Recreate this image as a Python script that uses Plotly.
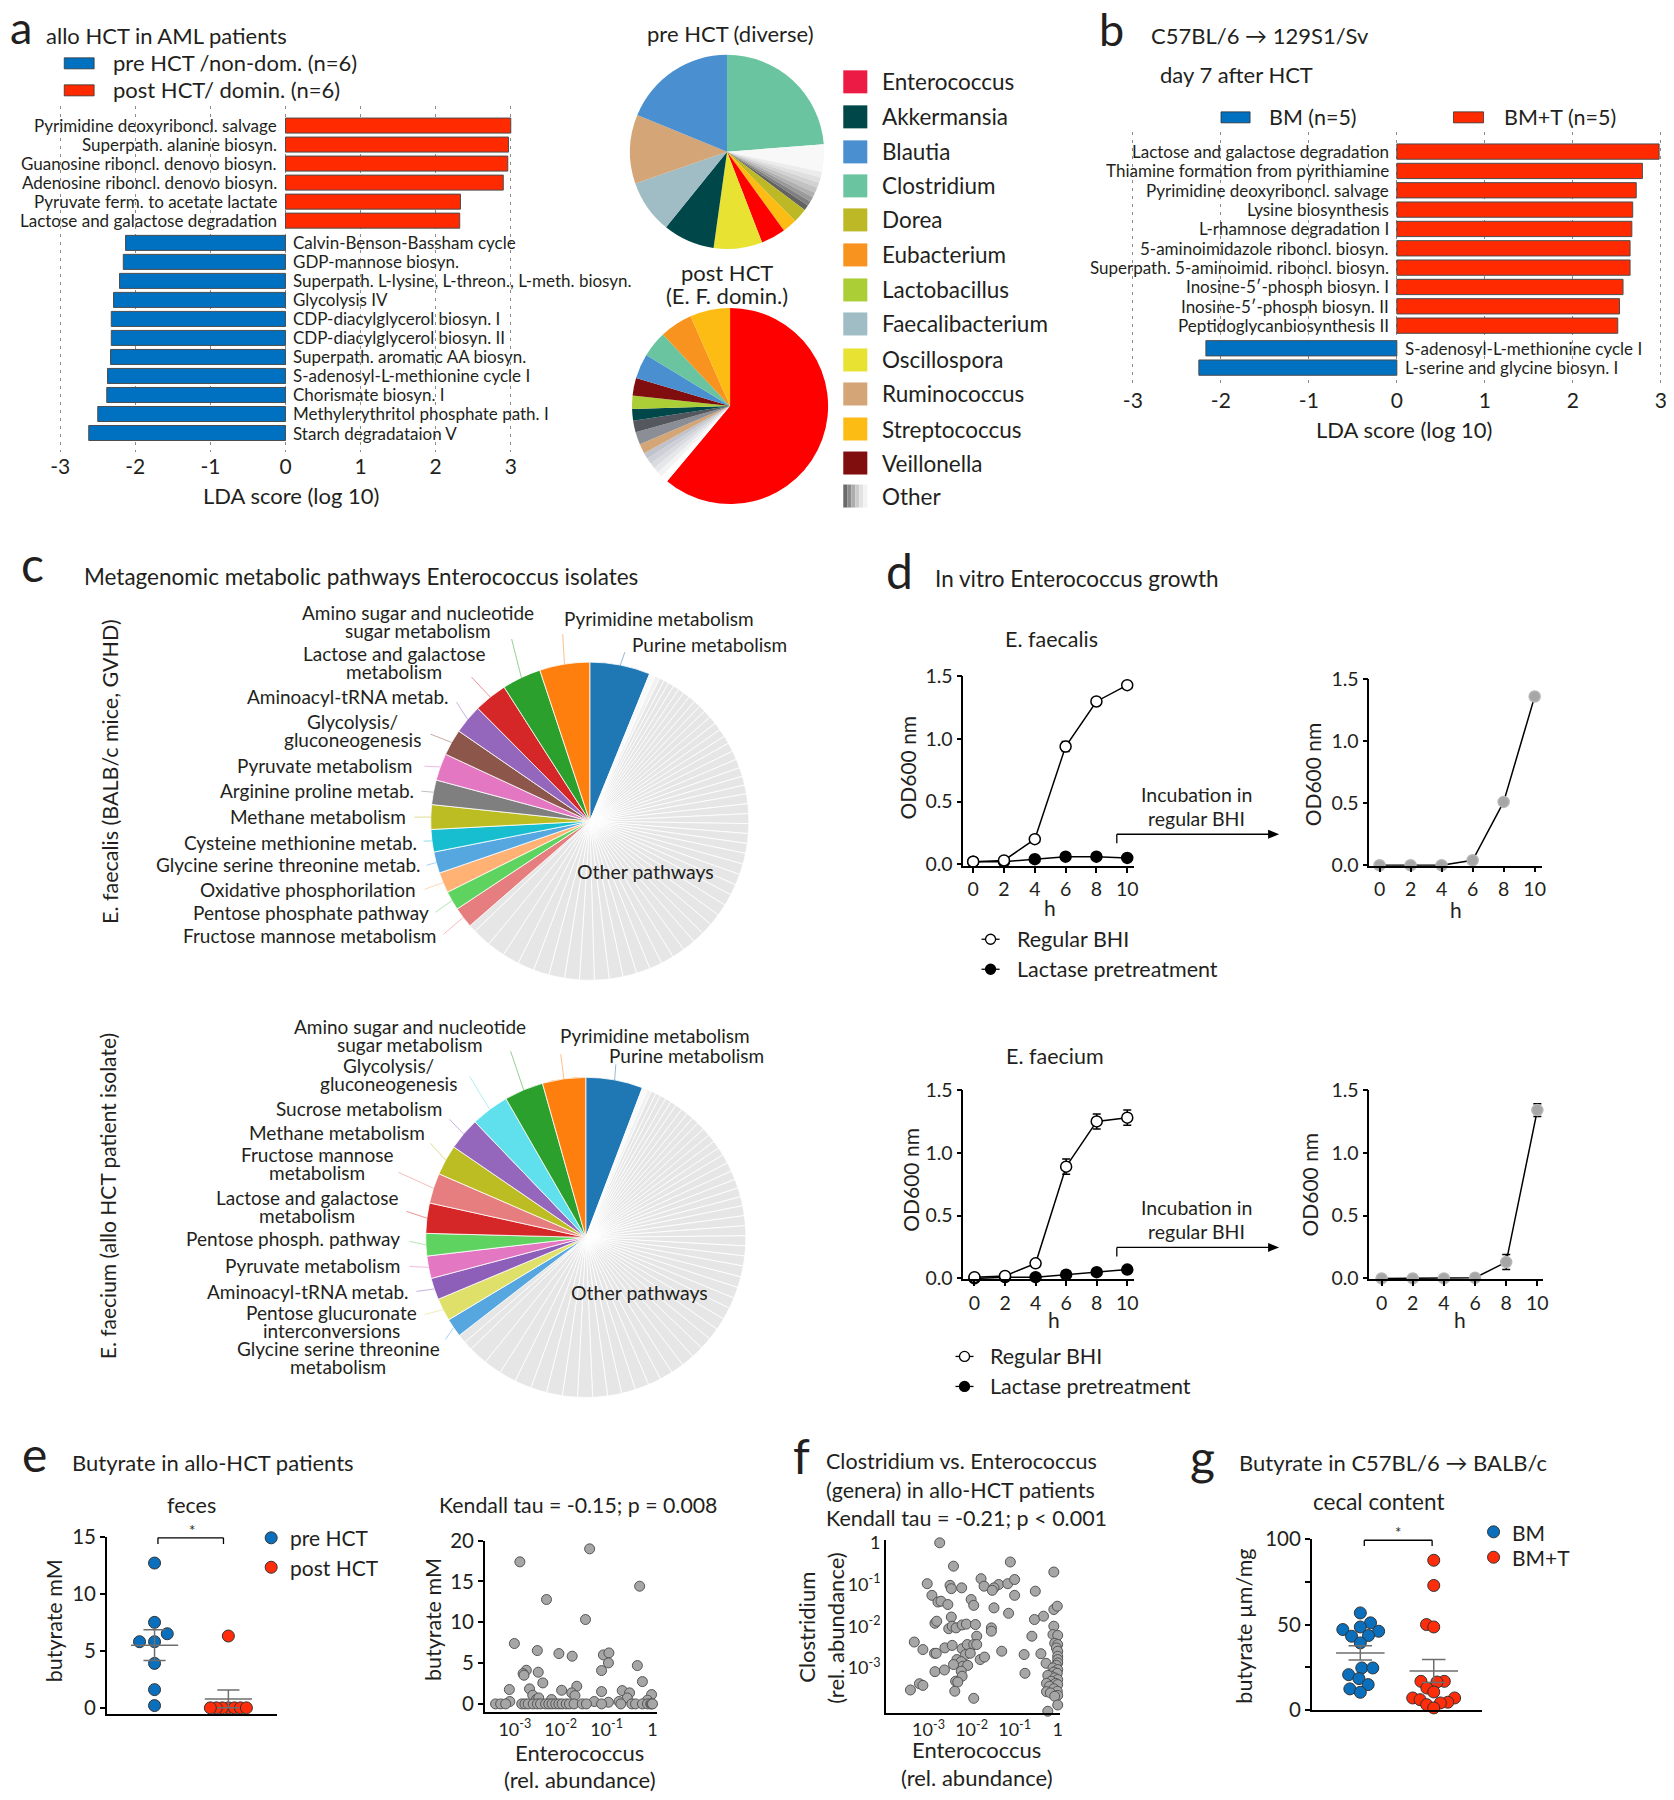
import numpy as np
import plotly.graph_objects as go

# figure size; the page keeps the browser's default 8px body margin.
W, H = 1674, 1800
MARGIN = 8
# measured mapping of page pixels onto the photographed picture (picture = A + S * page)
SX, AX, SY, AY = 0.9915, 8.4, 0.9862, 14.3
FONT = "Lato, 'Open Sans', sans-serif"
INK = "#231f20"

# ======================= DATA =======================
# a  LDA scores (allo HCT in AML patients)
a_post_paths = ["Pyrimidine deoxyriboncl. salvage", "Superpath. alanine biosyn.",
                "Guanosine riboncl. denovo biosyn.", "Adenosine riboncl. denovo biosyn.",
                "Pyruvate ferm. to acetate lactate", "Lactose and galactose degradation"]
a_post_lda = [3.00, 2.97, 2.96, 2.90, 2.33, 2.32]
a_pre_paths = ["Calvin-Benson-Bassham cycle", "GDP-mannose biosyn.",
               "Superpath. L-lysine, L-threon., L-meth. biosyn.", "Glycolysis IV",
               "CDP-diacylglycerol biosyn. I", "CDP-diacylglycerol biosyn. II",
               "Superpath. aromatic AA biosyn.", "S-adenosyl-L-methionine cycle I",
               "Chorismate biosyn. I", "Methylerythritol phosphate path. I", "Starch degradataion V"]
a_pre_lda = [-2.13, -2.16, -2.21, -2.29, -2.32, -2.32, -2.33, -2.37, -2.38, -2.50, -2.62]

# a  genus composition pies (percent, clockwise from 12 o'clock)
pre_taxa = ["Clostridium", "Other", "Other", "Other", "Other", "Other", "Other", "Other", "Other", "Other",
            "Dorea", "Streptococcus", "Enterococcus", "Oscillospora", "Akkermansia",
            "Faecalibacterium", "Ruminococcus", "Blautia"]
pre_pct = [23.75, 4.6, 0.9, 0.9, 0.9, 0.9, 0.8, 0.8, 0.8, 0.9, 2.4, 2.4, 4.1, 8.1, 8.6, 8.9, 11.5, 18.8]
post_taxa = ["Enterococcus", "Other", "Other", "Other", "Other", "Other", "Other", "Ruminococcus",
             "Other", "Other", "Akkermansia", "Lactobacillus", "Veillonella", "Blautia",
             "Clostridium", "Eubacterium", "Streptococcus"]
post_pct = [61.1, 1.2, 0.9, 0.9, 0.9, 1.0, 1.0, 1.6, 2.1, 1.9, 1.9, 2.2, 2.9, 4.1, 4.3, 5.4, 6.6]
legend_genera = ["Enterococcus", "Akkermansia", "Blautia", "Clostridium", "Dorea", "Eubacterium",
                 "Lactobacillus", "Faecalibacterium", "Oscillospora", "Ruminococcus",
                 "Streptococcus", "Veillonella", "Other"]

# b  LDA scores (C57BL/6 -> 129S1/Sv)
b_bmt_paths = ["Lactose and galactose degradation", "Thiamine formation from pyrithiamine",
               "Pyrimidine deoxyriboncl. salvage", "Lysine biosynthesis", "L-rhamnose degradation I",
               "5-aminoimidazole riboncl. biosyn.", "Superpath. 5-aminoimid. riboncl. biosyn.",
               "Inosine-5\u2032-phosph biosyn. I", "Inosine-5\u2032-phosph biosyn. II",
               "Peptidoglycanbiosynthesis II"]
b_bmt_lda = [2.98, 2.79, 2.72, 2.68, 2.67, 2.65, 2.65, 2.57, 2.53, 2.51]
b_bm_paths = ["S-adenosyl-L-methionine cycle I", "L-serine and glycine biosyn. I"]
b_bm_lda = [-2.17, -2.25]

# c  metabolic pathway pies (percent); named pathways, then the "other" pathways
c1_paths = ["Purine metabolism", "Fructose mannose metabolism", "Pentose phosphate pathway",
            "Oxidative phosphorilation", "Glycine serine threonine metab.", "Cysteine methionine metab.",
            "Methane metabolism", "Arginine proline metab.", "Pyruvate metabolism",
            "Glycolysis/ gluconeogenesis", "Aminoacyl-tRNA metab.", "Lactose and galactose metabolism",
            "Amino sugar and nucleotide sugar metabolism", "Pyrimidine metabolism"]
c1_pct = [6.14, 2.11, 1.94, 2.08, 2.17, 2.28, 2.50, 2.50, 2.75, 2.67, 2.97, 3.39, 3.97, 5.08]
c1_other_pct = [0.6, 0.5, 0.5, 0.5, 0.6, 0.6, 0.6, 0.7, 0.7, 0.7, 0.7, 0.8, 0.8, 0.8, 0.8, 0.8, 0.9, 0.9,
                0.9, 0.9, 0.9, 0.9, 1.0, 1.0, 1.0, 1.0, 1.0, 1.0, 1.1, 1.1, 1.1, 1.1, 1.2, 1.2, 1.2, 1.2,
                1.2, 1.3, 1.3, 1.3, 1.3, 1.4, 1.4, 1.4, 1.5, 1.5, 1.5, 1.6, 1.6, 1.7, 1.7, 1.8, 1.9, 0.74]
c2_paths = ["Purine metabolism", "Glycine serine threonine metabolism", "Pentose glucuronate interconversions",
            "Aminoacyl-tRNA metab.", "Pyruvate metabolism", "Pentose phosph. pathway",
            "Lactose and galactose metabolism", "Fructose mannose metabolism", "Methane metabolism",
            "Sucrose metabolism", "Glycolysis/ gluconeogenesis",
            "Amino sugar and nucleotide sugar metabolism", "Pyrimidine metabolism"]
c2_pct = [5.72, 1.86, 2.28, 2.17, 2.25, 2.25, 3.03, 3.03, 3.03, 3.25, 3.83, 3.92, 4.33]
c2_other_pct = [0.5, 0.44, 0.5, 0.5, 0.6, 0.6, 0.6, 0.7, 0.7, 0.7, 0.7, 0.8, 0.8, 0.8, 0.8, 0.8, 0.9, 0.9,
                0.9, 0.9, 0.9, 0.9, 1.0, 1.0, 1.0, 1.0, 1.0, 1.0, 1.1, 1.1, 1.1, 1.1, 1.2, 1.2, 1.2, 1.2,
                1.2, 1.3, 1.3, 1.3, 1.3, 1.4, 1.4, 1.4, 1.5, 1.5, 1.5, 1.6, 1.6, 1.7, 1.7, 1.8, 1.9,
                0.9, 0.88]

# d  in vitro growth (OD600), time in h
hours = [0, 2, 4, 6, 8, 10]
fs_bhi = [0.02, 0.03, 0.20, 0.94, 1.30, 1.43]
fs_bhi_err = [0.01, 0.01, 0.03, 0.04, 0.01, 0.01]
fs_lac = [0.02, 0.02, 0.04, 0.06, 0.06, 0.05]
fs_after = [0.0, 0.0, 0.0, 0.04, 0.51, 1.36]
fs_after_err = [0.0, 0.0, 0.0, 0.01, 0.01, 0.03]
fm_bhi = [0.01, 0.02, 0.12, 0.89, 1.25, 1.28]
fm_bhi_err = [0.01, 0.01, 0.01, 0.06, 0.06, 0.06]
fm_lac = [0.0, 0.01, 0.01, 0.03, 0.05, 0.07]
fm_after = [0.0, 0.0, 0.0, 0.005, 0.13, 1.34]
fm_after_err = [0.0, 0.0, 0.0, 0.0, 0.06, 0.05]

# e  butyrate (mM) in feces
e_pre_butyrate = [12.7, 7.5, 6.5, 5.8, 5.8, 3.9, 1.6, 0.2]
e_post_butyrate = [6.3, 0.0, 0.0, 0.0, 0.0, 0.0, 0.0, 0.0]
# e  butyrate vs Enterococcus relative abundance (log10)
e_entero_log10 = [-1.37, -2.89, -0.28, -2.31, -1.46, -3.01, -2.51, -2.04, -1.75, -1.07, -0.95, -0.96,
                  -1.11, -0.33, -2.75, -2.82, -2.80, -2.49, -2.39, -0.22, -3.12, -2.68, -2.61, -2.53,
                  -1.98, -1.65, -1.76, -1.69, -1.11, -0.66, -0.50, -0.55, -0.02, -3.11, -2.48, -2.20,
                  -1.27, -0.96, -0.73, -0.11,
                  -3.42, -3.31, -3.20, -2.85, -2.78, -2.71, -2.60, -2.51, -2.44, -2.33, -2.26, -2.19,
                  -2.11, -2.04, -1.97, -1.88, -1.81, -1.71, -1.53, -1.44, -1.11, -0.69, -0.45, -0.37,
                  -0.22, -0.11, -0.04, -0.02, 0.0]
e_butyrate = [18.98, 17.39, 14.41, 12.78, 10.33, 7.39, 6.53, 6.16, 5.84, 6.0, 6.24, 5.02,
              4.08, 4.69, 4.12, 3.71, 3.51, 3.88, 2.57, 2.73, 1.76, 1.84, 1.06, 0.53,
              1.67, 2.16, 1.35, 1.02, 1.51, 1.63, 1.35, 0.73, 1.14, 0.29, 0.73, 0.53,
              0.29, 0.20, 0.29, 0.45,
              0, 0, 0, 0, 0, 0, 0, 0, 0, 0, 0, 0, 0, 0, 0, 0, 0, 0, 0, 0, 0, 0, 0, 0, 0, 0, 0, 0, 0]

# f  Clostridium vs Enterococcus relative abundance (log10)
f_entero_log10 = [-2.74, -2.42, -1.10, -0.09, -3.03, -2.50, -2.47, -2.23, -1.78, -1.71, -1.37, -1.48,
                  -1.52, -1.16, -1.00, -0.52, -1.00, -2.92, -2.78, -2.71, -2.55, -2.01, -1.95, -1.48,
                  -1.14, -0.09, -0.01, -0.33, -0.54, -2.85, -2.81, -2.47, -2.53, -2.45, -2.36, -2.22,
                  -2.12, -1.91, -1.54, -1.54, -1.88, -0.60, -3.33, -3.13, -2.86, -2.82, -2.62, -2.45,
                  -2.22, -2.10, -1.95, -1.88, -2.14, -2.03, -2.34, -2.24, -2.20, -2.09, -2.42, -1.80,
                  -1.70, -1.30, -0.78, -0.39, -2.85, -2.63, -2.24, -2.22, -2.37, -2.32, -3.21, -3.13,
                  -3.42, -2.39, -1.95, -0.76, -0.27, -0.23,
                  -0.09, -0.11, 0.0, -0.07, 0.0, -0.03, 0.0, 0.0, 0.0, 0.0, -0.03, -0.11, 0.0, -0.09,
                  -0.01, -0.15, -0.23, -0.07, 0.0, -0.15, -0.26, -0.05, 0.0, -0.19, -0.09, -0.01, -0.26,
                  -0.17, 0.0, -0.07, 0.0]
f_clostr_log10 = [0.0, -0.56, -0.46, -0.70, -0.98, -1.02, -1.10, -1.08, -0.86, -1.04, -1.00, -1.08,
                  -1.14, -0.98, -0.88, -1.16, -1.26, -1.26, -1.42, -1.40, -1.48, -1.36, -1.50, -1.56,
                  -1.69, -1.60, -1.52, -1.76, -1.84, -1.93, -1.88, -1.78, -2.06, -2.00, -2.04, -1.97,
                  -1.95, -1.96, -2.04, -2.12, -2.24, -2.24, -2.38, -2.56, -2.65, -2.65, -2.52, -2.46,
                  -2.54, -2.44, -2.44, -2.44, -2.68, -2.65, -2.80, -2.85, -2.96, -2.94, -2.92, -2.80,
                  -2.74, -2.60, -2.68, -2.66, -3.09, -3.05, -3.08, -3.20, -3.32, -3.34, -3.38, -3.42,
                  -3.53, -3.56, -3.73, -3.13, -2.89, -4.04,
                  -2.00, -2.20, -2.22, -2.41, -2.44, -2.52, -2.60, -2.72, -2.80, -2.88, -2.94, -3.00,
                  -3.04, -3.10, -3.13, -3.20, -3.18, -3.24, -3.28, -3.32, -3.37, -3.37, -3.40, -3.44,
                  -3.50, -3.56, -3.57, -3.60, -3.66, -3.68, -3.89]

# g  butyrate (umol/mg) in cecal content
g_bm = [56.8, 51.0, 48.6, 47.1, 46.1, 43.6, 43.2, 39.3, 24.7, 24.7, 20.8, 18.5, 15.0, 12.5, 10.5]
g_bmt = [87.5, 72.8, 50.0, 48.6, 16.9, 16.9, 16.5, 13.0, 10.7, 7.2, 7.2, 6.2, 4.7, 4.3, 3.3, 1.4]

# ======================= STYLE =======================
BAR_RED, BAR_BLUE = "#ff2a00", "#0070c0"
DOT_RED, DOT_BLUE = "#ff2d0a", "#0a6fbd"
genus_color = {"Enterococcus": "#ff0000", "Akkermansia": "#00474a", "Blautia": "#4a8fd0",
               "Clostridium": "#6bc4a0", "Dorea": "#bdb926", "Eubacterium": "#f7931e",
               "Lactobacillus": "#abcd36", "Faecalibacterium": "#a0bcc4", "Oscillospora": "#e8e332",
               "Ruminococcus": "#d3a577", "Streptococcus": "#fdbc13", "Veillonella": "#800e0e"}
legend_swatch = dict(genus_color, Enterococcus="#ec1b46")
pre_other_cols = ["#f8f8f8", "#ececec", "#e0e0e0", "#d2d2d2", "#c2c2c2", "#b0b0b0", "#9a9a9a", "#808080", "#626262"]
post_other_cols = ["#ffffff", "#f3f3f4", "#e6e7ea", "#d9dbe0", "#cdd0d6", "#c0c3cb", "#8b8e95", "#54585e"]
c1_cols = ["#1f77b4", "#e67d7e", "#5fd35f", "#ffb273", "#56a6e0", "#17becf", "#bcbd22", "#7f7f7f",
           "#e377c2", "#8c564b", "#9467bd", "#d62728", "#2ca02c", "#ff7f0e"]
c2_cols = ["#1f77b4", "#56a6e0", "#dfe06a", "#8e5fb8", "#e377c2", "#5fd35f", "#d62728", "#e67d7e",
           "#bcbd22", "#9467bd", "#5fe0ec", "#2ca02c", "#ff7f0e"]

annotations, shapes = [], []
layout = dict(width=W, height=H, margin=dict(l=0, r=0, t=0, b=0), paper_bgcolor="white",
              plot_bgcolor="rgba(0,0,0,0)", showlegend=False, hovermode=False,
              font=dict(family=FONT, color=INK))


def PX(x):  # picture pixel -> paper fraction
    return ((x - AX) / SX - MARGIN) / W


def PY(y):
    return 1 - ((y - AY) / SY - MARGIN) / H


def text(s, x, y, size=20, xa="left", ya="middle", angle=0, color=INK):
    annotations.append(dict(text=s, x=PX(x), y=PY(y), xref="paper", yref="paper", showarrow=False,
                            xanchor=xa, yanchor=ya, textangle=angle,
                            font=dict(family=FONT, size=size, color=color)))


def rect(x0, y0, x1, y1, fill, line="rgba(0,0,0,0)", lw=0):
    shapes.append(dict(type="rect", xref="paper", yref="paper", x0=PX(x0), x1=PX(x1), y0=PY(y1), y1=PY(y0),
                       fillcolor=fill, line=dict(color=line, width=lw)))


def seg(x0, y0, x1, y1, color="black", w=1.5, opacity=1.0):
    shapes.append(dict(type="line", xref="paper", yref="paper", x0=PX(x0), x1=PX(x1), y0=PY(y0), y1=PY(y1),
                       line=dict(color=color, width=w), opacity=opacity))


def dot(cx, cy, r, fill, line="#333333", lw=1):
    shapes.append(dict(type="circle", xref="paper", yref="paper", x0=PX(cx - r), x1=PX(cx + r),
                       y0=PY(cy + r), y1=PY(cy - r), fillcolor=fill, line=dict(color=line, width=lw)))


def arrow(x0, x1, y):
    seg(x0, y, x1 - 8, y, w=1.4)
    shapes.append(dict(type="path", xref="paper", yref="paper", fillcolor="black", line=dict(width=0),
                       path=f"M {PX(x1)},{PY(y)} L {PX(x1 - 11)},{PY(y - 4.5)} L {PX(x1 - 11)},{PY(y + 4.5)} Z"))


def set_axes(i, xdom, ydom, xr, yr, xopt, yopt):
    s = "" if i == 1 else str(i)
    layout["xaxis" + s] = dict(domain=[PX(xdom[0]), PX(xdom[1])], range=xr, anchor="y" + s, **xopt)
    layout["yaxis" + s] = dict(domain=[PY(ydom[1]), PY(ydom[0])], range=yr, anchor="x" + s, **yopt)
    return "x" + s, "y" + s


fig = go.Figure()

# ======================= LDA bar panels (a, b) =======================
lda_x = dict(showgrid=True, gridcolor="#8a8a8a", gridwidth=1, griddash="3px,5px", zeroline=False,
             showline=False, ticks="", tickvals=[-3, -2, -1, 0, 1, 2, 3],
             ticktext=["-3", "-2", "-1", "0", "1", "2", "3"], tickfont=dict(size=21, color=INK, family=FONT))
lda_y = dict(visible=False)


def lda_panel(i, pos_names, pos_vals, neg_names, neg_vals, xdom, ydom, yr):
    xa, ya = set_axes(i, xdom, ydom, [-3.05, 3.05], yr, lda_x, lda_y)
    u_pos = np.arange(len(pos_vals), dtype=float)
    u_neg = len(pos_vals) + 0.17 + np.arange(len(neg_vals), dtype=float)
    fig.add_trace(go.Bar(x=pos_vals, y=u_pos, orientation="h", width=0.79, xaxis=xa, yaxis=ya,
                         marker=dict(color=BAR_RED, line=dict(color="#4d4d4d", width=1))))
    fig.add_trace(go.Bar(x=neg_vals, y=u_neg, orientation="h", width=0.79, xaxis=xa, yaxis=ya,
                         marker=dict(color=BAR_BLUE, line=dict(color="#4d4d4d", width=1))))
    for n, u in zip(pos_names, u_pos):
        annotations.append(dict(text=n, x=0, y=u, xref=xa, yref=ya, showarrow=False, xanchor="right",
                                xshift=-6, font=dict(size=17, family=FONT, color=INK)))
    for n, u in zip(neg_names, u_neg):
        annotations.append(dict(text=n, x=0, y=u, xref=xa, yref=ya, showarrow=False, xanchor="left",
                                xshift=6, font=dict(size=17, family=FONT, color=INK)))


lda_panel(1, a_post_paths, a_post_lda, a_pre_paths, a_pre_lda, [58.7, 515.9], [106.7, 453], [17.17, -1.053])
lda_panel(2, b_bmt_paths, b_bmt_lda, b_bm_paths, b_bm_lda, [1128.6, 1664.4], [133, 387], [12.12, -1.02])

text("a", 10, 28, size=45)
text("allo HCT in AML patients", 46, 37, size=22)
rect(66.5, 59, 96.3, 70, BAR_BLUE, "#333", 0.8)
rect(66.5, 86, 96.3, 97, BAR_RED, "#333", 0.8)
text("pre HCT /non-dom. (n=6)", 113, 64, size=22)
text("post HCT/ domin. (n=6)", 113, 91, size=22)
text("LDA score (log 10)", 293, 496, size=22, xa="center")

text("b", 1097, 30, size=45)
text("C57BL/6 \u2192 129S1/Sv", 1149, 37, size=22)
text("day 7 after HCT", 1158, 76, size=22)
rect(1221, 113, 1250, 124, BAR_BLUE, "#333", 0.8)
text("BM (n=5)", 1267, 118, size=21.5)
rect(1453, 113, 1483, 124, BAR_RED, "#333", 0.8)
text("BM+T (n=5)", 1501, 118, size=21.5)
text("LDA score (log 10)", 1404, 430, size=22, xa="center")

# ======================= genus pies (a) =======================


def genus_cols(taxa, other_cols):
    out, k = [], 0
    for t in taxa:
        if t == "Other":
            out.append(other_cols[k]); k += 1
        else:
            out.append(genus_color[t])
    return out


def pie_domain(cx, cy, r):
    return dict(x=[PX(cx - r), PX(cx + r)], y=[PY(cy + r), PY(cy - r)])


fig.add_trace(go.Pie(values=pre_pct, labels=[f"{t} {k}" for k, t in enumerate(pre_taxa)],
                     marker=dict(colors=genus_cols(pre_taxa, pre_other_cols), line=dict(width=0)),
                     sort=False, direction="clockwise", rotation=0, textinfo="none", hoverinfo="skip",
                     domain=pie_domain(728, 153, 97), showlegend=False))
fig.add_trace(go.Pie(values=post_pct, labels=[f"{t} {k}" for k, t in enumerate(post_taxa)],
                     marker=dict(colors=genus_cols(post_taxa, post_other_cols), line=dict(width=0)),
                     sort=False, direction="clockwise", rotation=0, textinfo="none", hoverinfo="skip",
                     domain=pie_domain(731, 407, 98), showlegend=False))
text("pre HCT (diverse)", 731, 35, size=22, xa="center")
text("post HCT", 728, 274, size=22, xa="center")
text("(E. F. domin.)", 728, 297, size=22, xa="center")

leg_y = [83, 118, 153, 187, 221, 256, 291, 325, 361, 395, 430, 464, 497]
other_ramp = ["#6a6a6a", "#8c8c8c", "#adadad", "#cbcbcb", "#e2e2e2", "#f3f3f3"]
for g, yy in zip(legend_genera, leg_y):
    if g == "Other":
        for k, c in enumerate(other_ramp):
            rect(844 + 4 * k, yy - 11.5, 848 + 4 * k, yy + 11.5, c)
    else:
        rect(844, yy - 11.5, 868, yy + 11.5, legend_swatch[g])
    text(g, 881, yy, size=22.5)

# ======================= pathway pies (c) =======================


def pathway_pie(paths, pct, other, cols, cx, cy, r, labels):
    values = [pct[0]] + list(other) + list(pct[1:])
    names = [paths[0]] + [f"other pathway {k}" for k in range(len(other))] + list(paths[1:])
    ocols = ["#f9f9f9", "#f1f1f1"] + ["#e6e6e6"] * (len(other) - 2)
    colors = [cols[0]] + ocols + list(cols[1:])
    fig.add_trace(go.Pie(values=values, labels=names, marker=dict(colors=colors, line=dict(color="white", width=0.8)),
                         sort=False, direction="clockwise", rotation=0, textinfo="none", hoverinfo="skip",
                         domain=pie_domain(cx, cy, r), showlegend=False))
    tot = float(sum(values))
    cum = np.cumsum(values) - np.array(values) / 2.0
    for k, (lines, lx, ly, anchor, start) in enumerate(labels):
        idx = 0 if k == 0 else len(other) + k
        th = 2 * np.pi * cum[idx] / tot
        rx, ry = cx + r * np.sin(th), cy - r * np.cos(th)
        seg(start[0], start[1], rx, ry, color=colors[idx], w=0.9, opacity=0.55)
        for j, ln in enumerate(lines):
            text(ln, lx, ly + 18 * j, size=19, xa=anchor)


c1_labels = [
    (["Purine metabolism"], 631, 645, "left", (626, 653)),
    (["Fructose mannose metabolism"], 441, 936, "right", (445, 935)),
    (["Pentose phosphate pathway"], 433, 913, "right", (437, 913)),
    (["Oxidative phosphorilation"], 420, 890, "right", (426, 890)),
    (["Glycine serine threonine metab."], 425, 865, "right", (428, 866)),
    (["Cysteine methionine metab."], 421, 843, "right", (425, 842)),
    (["Methane metabolism"], 410, 817, "right", (416, 818)),
    (["Arginine proline metab."], 418, 791, "right", (423, 792)),
    (["Pyruvate metabolism"], 416, 766, "right", (426, 767)),
    (["Glycolysis/", "gluconeogenesis"], 354, 722, "center", (432, 735)),
    (["Aminoacyl-tRNA metab."], 452, 697, "right", (458, 703)),
    (["Lactose and galactose", "metabolism"], 396, 654, "center", (473, 678)),
    (["Amino sugar and nucleotide", "sugar metabolism"], 420, 613, "center", (513, 640)),
    (["Pyrimidine metabolism"], 563, 619, "left", (564, 635)),
]
c2_labels = [
    (["Purine metabolism"], 608, 1056, "left", (617, 1065)),
    (["Glycine serine threonine", "metabolism"], 340, 1349, "center", (447, 1340)),
    (["Pentose glucuronate", "interconversions"], 333, 1313, "center", (426, 1315)),
    (["Aminoacyl-tRNA metab."], 413, 1292, "right", (418, 1292)),
    (["Pyruvate metabolism"], 404, 1266, "right", (411, 1267)),
    (["Pentose phosph. pathway"], 404, 1239, "right", (411, 1242)),
    (["Lactose and galactose", "metabolism"], 309, 1198, "center", (408, 1212)),
    (["Fructose mannose", "metabolism"], 319, 1155, "center", (400, 1173)),
    (["Methane metabolism"], 429, 1133, "right", (432, 1144)),
    (["Sucrose metabolism"], 445, 1109, "right", (451, 1120)),
    (["Glycolysis/", "gluconeogenesis"], 390, 1066, "center", (471, 1077)),
    (["Amino sugar and nucleotide", "sugar metabolism"], 412, 1027, "center", (512, 1052)),
    (["Pyrimidine metabolism"], 559, 1036, "left", (562, 1055)),
]
pathway_pie(c1_paths, c1_pct, c1_other_pct, c1_cols, 591, 822, 159, c1_labels)
pathway_pie(c2_paths, c2_pct, c2_other_pct, c2_cols, 587, 1238, 160, c2_labels)
text("Other pathways", 647, 872, size=19.5, xa="center")
text("Other pathways", 641, 1293, size=19.5, xa="center")
text("c", 21, 564, size=48)
text("Metagenomic metabolic pathways Enterococcus isolates", 84, 577, size=22.5)
text("E. faecalis (BALB/c mice, GVHD)", 112, 772, size=21.5, xa="center", angle=-90)
text("E. faecium (allo HCT patient isolate)", 110, 1197, size=21, xa="center", angle=-90)

# ======================= growth curves (d) =======================
prism_axis = dict(showline=True, linecolor="black", linewidth=1.5, ticks="outside", ticklen=5, tickwidth=1.5,
                  tickcolor="black", showgrid=False, zeroline=False,
                  tickfont=dict(size=19.5, color=INK, family=FONT))
d_x = dict(prism_axis, tickvals=hours)
d_y = dict(prism_axis, tickvals=[0, 0.5, 1.0, 1.5], ticktext=["0.0", "0.5", "1.0", "1.5"])


def err(v):
    return dict(type="data", array=v, color="black", thickness=1.5, width=4)


def growth(i, xdom, ydom, xr, yr, series):
    xa, ya = set_axes(i, xdom, ydom, xr, yr, d_x, d_y)
    for yv, ev, fill, line in series:
        fig.add_trace(go.Scatter(x=hours, y=yv, mode="lines+markers", xaxis=xa, yaxis=ya, cliponaxis=False,
                                 error_y=err(ev) if ev is not None else None,
                                 line=dict(color="black", width=1.5),
                                 marker=dict(size=11, color=fill, line=dict(color=line, width=1.5))))


growth(3, [963.8, 1134], [677.3, 866.7], [-0.64, 10.43], [-0.0136, 1.5],
       [(fs_lac, None, "black", "black"), (fs_bhi, fs_bhi_err, "white", "black")])
growth(4, [1369, 1541.8], [680, 866.5], [-0.66, 10.5], [-0.004, 1.5],
       [(fs_after, fs_after_err, "#a6a6a6", "#b5b5b5")])
growth(5, [963.8, 1134], [1090.7, 1280], [-0.73, 10.43], [-0.008, 1.5],
       [(fm_lac, None, "black", "black"), (fm_bhi, fm_bhi_err, "white", "black")])
growth(6, [1369, 1542.8], [1090.7, 1280], [-0.79, 10.39], [-0.008, 1.5],
       [(fm_after, fm_after_err, "#a6a6a6", "#b5b5b5")])

text("d", 885, 571, size=48)
text("In vitro Enterococcus growth", 934, 579, size=22.5)
text("E. faecalis", 1052, 640, size=21.5, xa="center")
text("E. faecium", 1055, 1057, size=21.5, xa="center")
for (xl, yc) in [(908, 768), (1312, 775), (911, 1180), (1309, 1185)]:
    text("OD600 nm", xl, yc, size=21, xa="center", angle=-90)
for (xc, yc) in [(1050, 908), (1456, 910), (1054, 1320), (1460, 1320)]:
    text("h", xc, yc, size=21, xa="center")
for ya_, yb_ in [(795, 819), (1208, 1232)]:
    text("Incubation in", 1197, ya_, size=19.5, xa="center")
    text("regular BHI", 1197, yb_, size=19.5, xa="center")
for yarr in [835, 1248]:
    seg(1117, yarr, 1117, yarr + 9, w=1.3)
    arrow(1117, 1279, yarr)
for (lx, ty, tx) in [(991, 940, 1015), (965, 1357, 988)]:
    seg(lx - 9, ty, lx + 9, ty, w=1.3)
    dot(lx, ty, 5, "white", "black", 1.3)
    text("Regular BHI", tx, ty, size=21.5)
    seg(lx - 9, ty + 30, lx + 9, ty + 30, w=1.3)
    dot(lx, ty + 30, 5, "black", "black", 1.3)
    text("Lactase pretreatment", tx, ty + 30, size=21.5)

# ======================= scatter dot plots (e, g) =======================


def swarm(values, px_per_y, d, cap):
    v = np.asarray(values, float)
    placed, offs = [], np.zeros(len(v))
    for i in np.argsort(v, kind="stable"):
        y = v[i] * px_per_y
        cands = [0.0]
        for (px_, py_) in placed:
            dy = abs(py_ - y)
            if dy < d:
                dx = np.sqrt(d * d - dy * dy)
                cands += [px_ + dx, px_ - dx]
        ok = [c for c in cands if all((c - a) ** 2 + (y - b) ** 2 >= d * d - 1e-6 for a, b in placed)]
        best = min(ok, key=lambda c: (abs(c), c))
        offs[i] = best
        placed.append((best, y))
    m = np.abs(offs).max()
    if m > cap:
        offs *= cap / m
    return offs


def dot_group(xa, ya, pos, vals, color, px_per_x, px_per_y, d, cap, mean_hw, sem_hw):
    offs = swarm(vals, px_per_y, d, cap) / px_per_x
    fig.add_trace(go.Scatter(x=pos + offs, y=vals, mode="markers", xaxis=xa, yaxis=ya, cliponaxis=False,
                             marker=dict(size=12, color=color, line=dict(color="#333333", width=1))))
    v = np.asarray(vals, float)
    m, s = v.mean(), v.std(ddof=1) / np.sqrt(len(v))
    gx = [pos - mean_hw, pos + mean_hw, None, pos, pos, None, pos - sem_hw, pos + sem_hw, None,
          pos - sem_hw, pos + sem_hw]
    gy = [m, m, None, m - s, m + s, None, m + s, m + s, None, m - s, m - s]
    fig.add_trace(go.Scatter(x=gx, y=gy, mode="lines", xaxis=xa, yaxis=ya, cliponaxis=False,
                             line=dict(color="#6e6e6e", width=1.5)))


tick_big = dict(size=20.5, color=INK, family=FONT)
tick_log = dict(size=18, color=INK, family=FONT)

# e left
ex, ey = set_axes(7, [109, 278.7], [1537.3, 1714.3], [-0.646, 1.657], [-0.53, 15],
                  dict(showline=True, linecolor="black", linewidth=1.5, ticks="", showticklabels=False,
                       showgrid=False, zeroline=False),
                  dict(prism_axis, tickvals=[0, 5, 10, 15], tickfont=tick_big))
dot_group(ex, ey, 0.0, e_pre_butyrate, DOT_BLUE, 73.7, 11.4, 15, 18, 0.32, 0.15)
dot_group(ex, ey, 1.0, e_post_butyrate, DOT_RED, 73.7, 11.4, 15, 18, 0.32, 0.15)
text("e", 22, 1454, size=48)
text("Butyrate in allo-HCT patients", 72, 1463, size=22)
text("feces", 193, 1505, size=21.5, xa="center")
text("butyrate mM", 56, 1621, size=21.5, xa="center", angle=-90)
seg(160, 1538.3, 225.4, 1538.3, w=1.3)
seg(160, 1538.3, 160, 1544.5, w=1.3)
seg(225.4, 1538.3, 225.4, 1544.5, w=1.3)
text("*", 194, 1530, size=15, xa="center")
dot(273, 1538.3, 6, DOT_BLUE)
text("pre HCT", 290, 1538.3, size=21)
dot(273, 1567.7, 6, DOT_RED)
text("post HCT", 290, 1567.7, size=21)

# e right (Kendall)
logticks = [1e-3, 1e-2, 1e-1, 1]
logtext = ["10<sup>-3</sup>", "10<sup>-2</sup>", "10<sup>-1</sup>", "1"]
ex2, ey2 = set_axes(8, [486.2, 657.8], [1541, 1712.7], [-3.655, 0.092], [-1.03, 20],
                    dict(showline=True, linecolor="black", linewidth=1.5, ticks="", type="log", tickvals=logticks,
                         ticktext=logtext, showgrid=False, zeroline=False, tickfont=tick_log),
                    dict(prism_axis, tickvals=[0, 5, 10, 15, 20], tickfont=tick_big))
fig.add_trace(go.Scatter(x=10 ** np.array(e_entero_log10), y=e_butyrate, mode="markers", xaxis=ex2, yaxis=ey2,
                         cliponaxis=False, marker=dict(size=10, color="#a6a6a6", line=dict(color="#555555", width=1))))
text("Kendall tau = -0.15; p = 0.008", 579, 1505, size=21.3, xa="center")
text("butyrate mM", 434, 1620, size=21.5, xa="center", angle=-90)
text("Enterococcus", 581, 1753, size=22, xa="center")
text("(rel. abundance)", 581, 1780, size=22, xa="center")

# f
fx, fy = set_axes(9, [886.5, 1060.2], [1540, 1713.3], [-3.99, 0.051], [-4.08, 0.079],
                  dict(showline=True, linecolor="black", linewidth=1.5, ticks="", type="log", tickvals=logticks,
                       ticktext=logtext, showgrid=False, zeroline=False, tickfont=tick_log),
                  dict(showline=True, linecolor="black", linewidth=1.5, ticks="", type="log", tickvals=logticks,
                       ticktext=logtext, showgrid=False, zeroline=False, tickfont=tick_log))
fig.add_trace(go.Scatter(x=10 ** np.array(f_entero_log10), y=10 ** np.array(f_clostr_log10), mode="markers",
                         xaxis=fx, yaxis=fy, cliponaxis=False,
                         marker=dict(size=10, color="#a6a6a6", line=dict(color="#555555", width=1))))
text("f", 792, 1456, size=48)
text("Clostridium vs. Enterococcus", 825, 1462, size=21.5)
text("(genera) in allo-HCT patients", 825, 1490, size=21.5)
text("Kendall tau = -0.21; p < 0.001", 825, 1518, size=21.5)
text("Clostridium", 807, 1628, size=22, xa="center", angle=-90)
text("(rel. abundance)", 836, 1628, size=22, xa="center", angle=-90)
text("Enterococcus", 977, 1750, size=22, xa="center")
text("(rel. abundance)", 977, 1778, size=22, xa="center")

# g
gx_, gy_ = set_axes(10, [1311.5, 1481.7], [1539.3, 1710.7], [-0.662, 1.66], [0, 100],
                    dict(showline=True, linecolor="black", linewidth=1.5, ticks="", showticklabels=False,
                         showgrid=False, zeroline=False),
                    dict(prism_axis, tickvals=[0, 50, 100], tickfont=tick_big,
                         minor=dict(tickvals=[25, 75], ticks="outside", ticklen=5, tickwidth=1.5,
                                    tickcolor="black")))
dot_group(gx_, gy_, 0.0, g_bm, DOT_BLUE, 73.3, 1.714, 11, 21, 0.33, 0.16)
dot_group(gx_, gy_, 1.0, g_bmt, DOT_RED, 73.3, 1.714, 11, 21, 0.33, 0.16)
text("g", 1188, 1457, size=48)
text("Butyrate in C57BL/6 \u2192 BALB/c", 1237, 1463, size=22)
text("cecal content", 1378, 1502, size=22.5, xa="center")
text("butyrate \u00b5m/mg", 1244, 1627, size=21.5, xa="center", angle=-90)
seg(1364, 1540.7, 1431.7, 1540.7, w=1.3)
seg(1364, 1540.7, 1364, 1546.5, w=1.3)
seg(1431.7, 1540.7, 1431.7, 1546.5, w=1.3)
text("*", 1398, 1532, size=15, xa="center")
dot(1493, 1532.3, 6, DOT_BLUE)
text("BM", 1509, 1532.7, size=21)
dot(1493, 1557.7, 6, DOT_RED)
text("BM+T", 1509, 1558.3, size=21)

layout["annotations"] = annotations
layout["shapes"] = shapes
fig.update_layout(**layout)
fig.write_html("out.html", config={"displayModeBar": False})
